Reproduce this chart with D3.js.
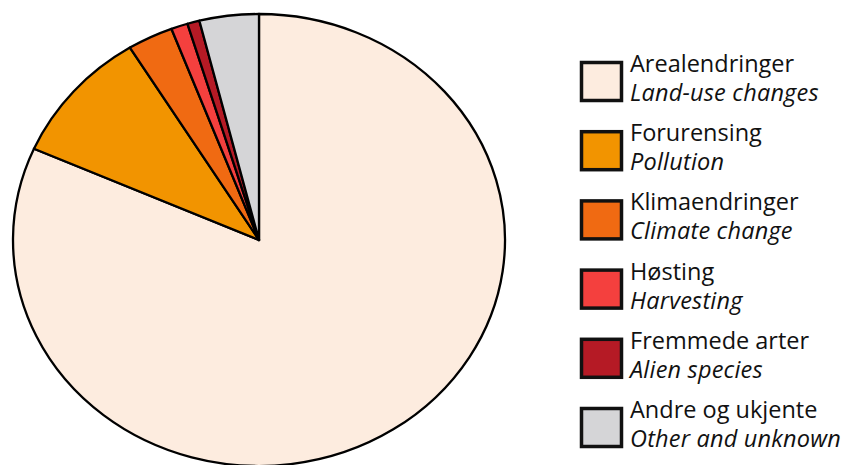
<!DOCTYPE html>
<html>
<head>
<meta charset="utf-8">
<script src="https://cdn.jsdelivr.net/npm/d3@7"></script>
<style>
  body { margin: 0; background: #fff; }
  text { font-family: "Open Sans", sans-serif; }
</style>
</head>
<body>
<div id="chart"></div>
<script>
let width = 859,
    height = 465;

// data (share of threatened species, %)
let names_no = ["Arealendringer", "Forurensing", "Klimaendringer", "Høsting", "Fremmede arter", "Andre og ukjente"];
let names_en = ["Land-use changes", "Pollution", "Climate change", "Harvesting", "Alien species", "Other and unknown"];
let values = [81.7, 9.6, 3.0, 1.1, 0.8, 3.9];
let colors = ["#fdecdf", "#f29400", "#f06a12", "#f4403e", "#b51a25", "#d5d5d7"];

let data = names_no.map((d, i) => ({ no: d, en: names_en[i], value: values[i], color: colors[i] }));

let svg = d3.select("#chart")
    .append("svg")
    .attr("width", width)
    .attr("height", height);

// pie is drawn slightly squashed vertically, like the original
let rx = 246, ry = 226;

let pie = d3.pie()
    .sort(null)
    .value(d => d.value);

let arc = d3.arc()
    .innerRadius(0)
    .outerRadius(rx);

let g = svg.append("g")
    .attr("transform", "translate(259,240) scale(1," + (ry / rx) + ")");

g.selectAll("path")
    .data(pie(data))
    .enter()
    .append("path")
    .attr("d", arc)
    .attr("fill", d => d.data.color)
    .attr("stroke", "#000")
    .attr("stroke-width", 2.3)
    .attr("stroke-linejoin", "round")
    .attr("vector-effect", "non-scaling-stroke");

// legend
let legend_y = d3.scalePoint()
    .domain(d3.range(data.length))
    .range([61, 407]);

let item = svg.selectAll(".legend")
    .data(data)
    .enter()
    .append("g")
    .attr("class", "legend")
    .attr("transform", (d, i) => "translate(580," + legend_y(i) + ")");

item.append("rect")
    .attr("x", 1.5)
    .attr("y", 1.5)
    .attr("width", 40)
    .attr("height", 38)
    .attr("fill", d => d.color)
    .attr("stroke", "#111")
    .attr("stroke-width", 3.5);

item.append("text")
    .attr("x", 50)
    .attr("y", 11)
    .style("font-size", "23.5px")
    .style("fill", "#111")
    .text(d => d.no);

item.append("text")
    .attr("x", 50)
    .attr("y", 40)
    .style("font-size", "23.5px")
    .style("font-style", "italic")
    .style("letter-spacing", "0.2px")
    .style("fill", "#111")
    .text(d => d.en);
</script>
</body>
</html>
